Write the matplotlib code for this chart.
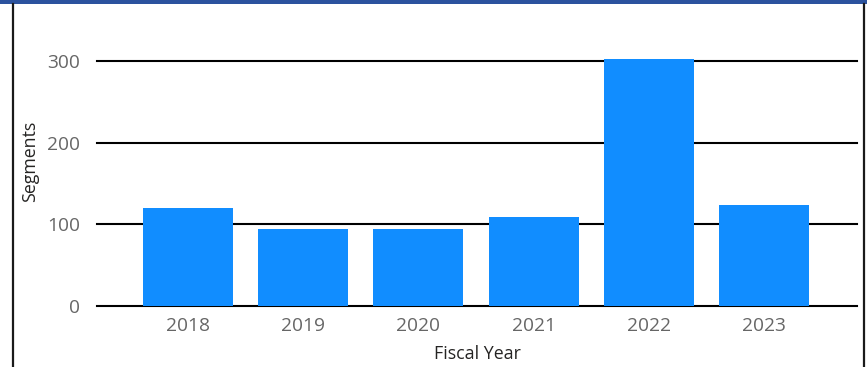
import matplotlib.pyplot as plt
from matplotlib.lines import Line2D
from matplotlib.patches import Rectangle

years = ["2018", "2019", "2020", "2021", "2022", "2023"]
segments = [120, 94, 94, 109, 302, 124]
yticks = [0, 100, 200, 300]

W, H = 867, 367
fig = plt.figure(figsize=(W / 100, H / 100), dpi=100)
fig.patch.set_facecolor("white")

# card frame: blue header strip plus dark side borders
fig.add_artist(Rectangle((0, 1 - 4 / H), 1, 4 / H, transform=fig.transFigure,
                         facecolor="#2B529E", edgecolor="none"))
fig.add_artist(Line2D([12.5 / W, 12.5 / W], [0, 1 - 4 / H], transform=fig.transFigure,
                      color="#1a1a1a", linewidth=1.6))
fig.add_artist(Line2D([863.5 / W, 863.5 / W], [0, 1 - 4 / H], transform=fig.transFigure,
                      color="#1a1a1a", linewidth=1.6))

ymax = 330
px_per_unit = (306 - 61) / 300
top_px = 306 - ymax * px_per_unit
ax = fig.add_axes([97 / W, (H - 306) / H, 760 / W, (306 - top_px) / H])

x = range(len(years))
ax.bar(x, segments, width=0.78, color="#118DFF", zorder=3)

ax.set_xlim(-0.79, len(years) - 1 + 0.807)
ax.set_ylim(0, ymax)
ax.set_yticks(yticks)
ax.set_xticks(list(x))
ax.set_xticklabels(years)

ax.yaxis.grid(True, color="black", linewidth=1.5, zorder=0)
for gl in ax.yaxis.get_gridlines():
    gl.set_clip_on(False)
ax.set_axisbelow(True)
for s in ax.spines.values():
    s.set_visible(False)

ax.tick_params(axis="both", length=0, labelsize=13.8, labelcolor="#666666")
ax.tick_params(axis="y", pad=12)
ax.tick_params(axis="x", pad=8)
for lbl in ax.get_xticklabels() + ax.get_yticklabels():
    lbl.set_family("Open Sans")

# axis titles
fig.text(477 / W, 1 - 354 / H, "Fiscal Year", family="Open Sans", fontsize=12.8,
         color="#252423", ha="center", va="center")
fig.text(30 / W, 1 - 161 / H, "Segments", family="Open Sans", fontsize=12.8,
         color="#252423", ha="center", va="center", rotation=90)

fig.savefig("out.png", dpi=100)
